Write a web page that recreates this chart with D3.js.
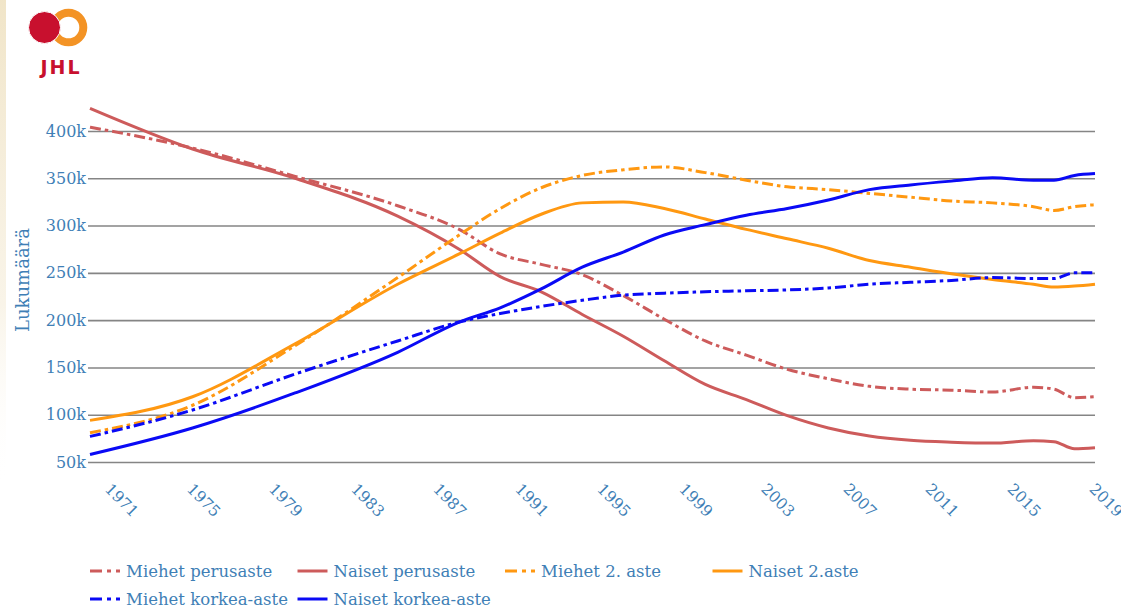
<!DOCTYPE html>
<html>
<head>
<meta charset="utf-8">
<script src="https://cdn.jsdelivr.net/npm/d3@7"></script>
<style>
  html, body { margin: 0; padding: 0; background: #ffffff; }
  svg { display: block; }
</style>
</head>
<body>
<svg id="chart" width="1121" height="608"></svg>
<script>
// Population by education level and sex, thousands
const years = [1970, 1975, 1980, 1985, 1988, 1990, 1992, 1994, 1996, 1998, 2000, 2002, 2004, 2006, 2008, 2010, 2012, 2014, 2016, 2017, 2018, 2019];

const miehetPerusaste = [404, 382, 352, 321, 296, 270, 259, 248, 226, 201, 178, 163, 148, 138, 130, 127, 126, 124, 129, 127, 118, 119];
const naisetPerusaste = [424, 381, 350, 310, 275, 246, 230, 206, 183, 157, 132, 116, 99, 86, 77.5, 73, 71, 70, 72.5, 71.5, 64, 65];
const miehet2Aste     = [81, 110, 173, 245, 290, 318, 340, 353, 359, 362, 356, 348, 341, 338, 334, 330, 326, 324, 320, 316, 320, 322];
const naiset2Aste     = [94, 119, 175, 238, 270, 292, 312, 324, 325, 318, 307, 296, 286, 276, 263, 256, 249, 243, 238, 235, 236, 238];
const miehetKorkea    = [77, 105, 143, 178, 198, 207, 214.5, 221, 226.5, 228.5, 230, 231, 232, 234, 238, 240, 242, 245, 244, 244, 250, 250];
const naisetKorkea    = [58, 86, 123, 166, 198, 213, 233, 256, 272, 290, 301, 311, 318, 327, 338, 343, 347, 350.5, 348, 348, 353, 355];

const seriesNames = ["Miehet perusaste", "Naiset perusaste", "Miehet 2. aste", "Naiset 2.aste", "Miehet korkea-aste", "Naiset korkea-aste"];
const seriesValues = [miehetPerusaste, naisetPerusaste, miehet2Aste, naiset2Aste, miehetKorkea, naisetKorkea];
const seriesColors = ["#cd5b5b", "#cd5b5b", "#ff9811", "#ff9811", "#0a0af5", "#0a0af5"];
const seriesDashed = [true, false, true, false, true, false];

const yTicks = [50000, 100000, 150000, 200000, 250000, 300000, 350000, 400000];
const xTicks = [1971, 1975, 1979, 1983, 1987, 1991, 1995, 1999, 2003, 2007, 2011, 2015, 2019];

const textColor = "#3f7fb6";
const serif = "'DejaVu Serif', serif";
const dashPattern = "11,4,3.5,4";

const svg = d3.select("#chart");

// faint textured strip along the left edge of the slide
const strip = svg.append("defs").append("linearGradient")
  .attr("id", "edge").attr("x1", 0).attr("x2", 0).attr("y1", 0).attr("y2", 1);
strip.append("stop").attr("offset", "0").attr("stop-color", "#efe2c2").attr("stop-opacity", 0.9);
strip.append("stop").attr("offset", "0.5").attr("stop-color", "#f3e9d2").attr("stop-opacity", 0.5);
strip.append("stop").attr("offset", "0.8").attr("stop-color", "#ffffff").attr("stop-opacity", 0);
svg.append("rect").attr("x", 0).attr("y", 0).attr("width", 6).attr("height", 608).attr("fill", "url(#edge)");

// JHL logo
const logo = svg.append("g").attr("class", "logo");
logo.append("circle").attr("cx", 68.5).attr("cy", 27.5).attr("r", 14.8)
  .attr("fill", "none").attr("stroke", "#f39325").attr("stroke-width", 8);
logo.append("circle").attr("cx", 44.5).attr("cy", 27.5).attr("r", 16).attr("fill", "#c8102e")
  .attr("stroke", "#ffffff").attr("stroke-width", 1);
logo.append("text").attr("x", 61).attr("y", 74).attr("text-anchor", "middle")
  .attr("font-family", "'DejaVu Sans', sans-serif").attr("font-weight", "bold")
  .attr("font-size", 19).attr("fill", "#c8102e").attr("letter-spacing", 2).text("JHL");

const x = d3.scaleLinear().domain([1970, 2019]).range([90, 1095]);
const y = d3.scaleLinear().domain([50000, 400000]).range([462, 131]);

// horizontal grid with tick labels
const yAxis = svg.append("g")
  .attr("transform", `translate(${x.range()[1]},0)`)
  .call(d3.axisLeft(y).tickValues(yTicks).tickSize(x.range()[1] - 88).tickPadding(2)
    .tickFormat(d => (d / 1000) + "k"));
yAxis.select(".domain").remove();
yAxis.selectAll(".tick line").attr("stroke", "#858585").attr("stroke-width", 1.6);
yAxis.selectAll(".tick text").attr("fill", textColor)
  .attr("font-family", serif).attr("font-size", 16);

// year labels, rotated
const xAxis = svg.append("g")
  .attr("transform", `translate(0,${y.range()[0]})`)
  .call(d3.axisBottom(x).tickValues(xTicks).tickSize(0).tickFormat(d3.format("d")));
xAxis.select(".domain").remove();
xAxis.selectAll(".tick text")
  .attr("fill", textColor).attr("font-family", serif).attr("font-size", 15.5)
  .attr("text-anchor", "start").attr("dy", 0).attr("y", 0)
  .attr("transform", "translate(-7,28) rotate(45)");

// axis title
svg.append("text")
  .attr("transform", "translate(29,280) rotate(-90)")
  .attr("text-anchor", "middle").attr("fill", textColor)
  .attr("font-family", serif).attr("font-size", 18).text("Lukumäärä");

// series lines
const line = d3.line().curve(d3.curveMonotoneX)
  .x((d, i) => x(years[i])).y(d => y(d * 1000));
const lines = svg.append("g").attr("class", "series");
seriesValues.forEach((vals, k) => {
  lines.append("path")
    .datum(vals)
    .attr("d", line)
    .attr("fill", "none")
    .attr("stroke", seriesColors[k])
    .attr("stroke-width", 3)
    .attr("stroke-linejoin", "round")
    .attr("stroke-dasharray", seriesDashed[k] ? dashPattern : null);
});

// legend: four columns, wraps to a second row
const legend = svg.append("g").attr("class", "legend");
seriesNames.forEach((name, k) => {
  const col = k % 4, row = Math.floor(k / 4);
  const g = legend.append("g").attr("transform", `translate(${90 + col * 207.5},${571 + row * 28})`);
  g.append("line").attr("x1", 0).attr("x2", 30).attr("y1", 0).attr("y2", 0)
    .attr("stroke", seriesColors[k]).attr("stroke-width", 3)
    .attr("stroke-dasharray", seriesDashed[k] ? "12,5,4,5,4,100" : null);
  g.append("text").attr("x", 36).attr("y", 0).attr("dy", "0.35em")
    .attr("fill", textColor).attr("font-family", serif).attr("font-size", 16.5)
    .text(name);
});
</script>
</body>
</html>
